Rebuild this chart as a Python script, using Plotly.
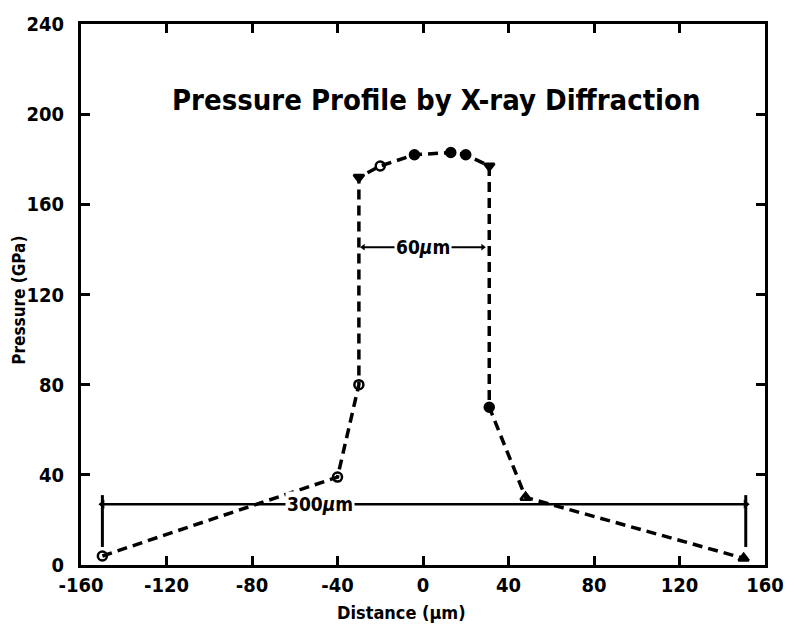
import plotly.graph_objects as go

# ---- data ----
distance_um = [-150, -40, -30, -30, -20, -4, 13, 20, 31, 31, 48, 150]
pressure_gpa = [4, 39, 80, 172, 177, 182, 183, 182, 177, 70, 30, 3]
marker_symbols = ["circle-open", "circle-open", "circle-open", "triangle-down", "circle-open",
                  "circle", "circle", "circle", "triangle-down", "circle", "triangle-up-open",
                  "triangle-up"]

x_ticks = [-160, -120, -80, -40, 0, 40, 80, 120, 160]
x_ticklabels = ["-160", "-120", "-80", "-40", "0", "40", "80", "120", "160"]
y_ticks = [0, 40, 80, 120, 160, 200, 240]
y_ticklabels = ["0", "40", "80", "120", "160", "200", "240"]

# dimension markers
dim300_x = [-150, 151]
dim300_y = 27
dim300_bar_y = [8, 31]
dim60_x = [-28, 28]
dim60_y = 141

FONT = "DejaVu Sans Condensed, DejaVu Sans, sans-serif"

fig = go.Figure()

# 300 um dimension line
fig.add_trace(go.Scatter(x=dim300_x, y=[dim300_y, dim300_y], mode="lines+markers",
                         line=dict(color="black", width=2.5),
                         marker=dict(symbol=["triangle-left", "triangle-right"], size=8, color="black"),
                         hoverinfo="skip", showlegend=False))
for xv in dim300_x:
    fig.add_trace(go.Scatter(x=[xv, xv], y=dim300_bar_y, mode="lines",
                             line=dict(color="black", width=3), hoverinfo="skip", showlegend=False))
# 60 um dimension line
fig.add_trace(go.Scatter(x=dim60_x, y=[dim60_y, dim60_y], mode="lines+markers",
                         line=dict(color="black", width=2),
                         marker=dict(symbol=["triangle-left", "triangle-right"], size=6, color="black"),
                         hoverinfo="skip", showlegend=False))

# pressure profile
fig.add_trace(go.Scatter(x=distance_um, y=pressure_gpa, mode="lines+markers",
                         line=dict(color="black", width=3.5, dash="10px,6px"),
                         marker=dict(symbol=marker_symbols, size=9, color="black",
                                     line=dict(color="black", width=2.5)),
                         showlegend=False))

fig.add_annotation(x=-48, y=dim300_y, text="<b>300<i>µ</i>m</b>", showarrow=False,
                   bgcolor="white", font=dict(family=FONT, size=19, color="black"))
fig.add_annotation(x=0, y=dim60_y, text="<b>60<i>µ</i>m</b>", showarrow=False,
                   bgcolor="white", font=dict(family=FONT, size=19, color="black"))
fig.add_annotation(x=0.52, y=0.895, xref="paper", yref="paper",
                   text="<b>Pressure Profile by X-ray Diffraction</b>", showarrow=False,
                   font=dict(family=FONT, size=29, color="black"))
fig.add_annotation(x=0.469, y=-0.088, xref="paper", yref="paper", yanchor="middle",
                   text="<b>Distance (µm)</b>", showarrow=False,
                   font=dict(family=FONT, size=18, color="black"))
fig.add_annotation(x=-0.091, y=0.49, xref="paper", yref="paper", textangle=-90,
                   xanchor="center", text="<b>Pressure (GPa)</b>", showarrow=False,
                   font=dict(family=FONT, size=17, color="black"))

axis_common = dict(showline=True, linecolor="black", linewidth=3, mirror="ticks",
                   ticks="inside", ticklen=9, tickwidth=2.5, tickcolor="black",
                   showgrid=False, zeroline=False,
                   tickfont=dict(family=FONT, size=20, color="black"))

fig.update_xaxes(range=[-160, 160], tickvals=x_ticks,
                 ticktext=["<b>%s</b>" % t for t in x_ticklabels],
                 ticklabelstandoff=0, **axis_common)
fig.update_yaxes(range=[0, 240], tickvals=y_ticks,
                 ticktext=["<b>%s</b>" % t for t in y_ticklabels],
                 ticklabelstandoff=10, **axis_common)

fig.update_layout(width=796, height=624, margin=dict(l=81, r=26, t=23, b=59),
                  paper_bgcolor="white", plot_bgcolor="white",
                  font=dict(family=FONT, color="black"))

fig.write_html("out.html")
